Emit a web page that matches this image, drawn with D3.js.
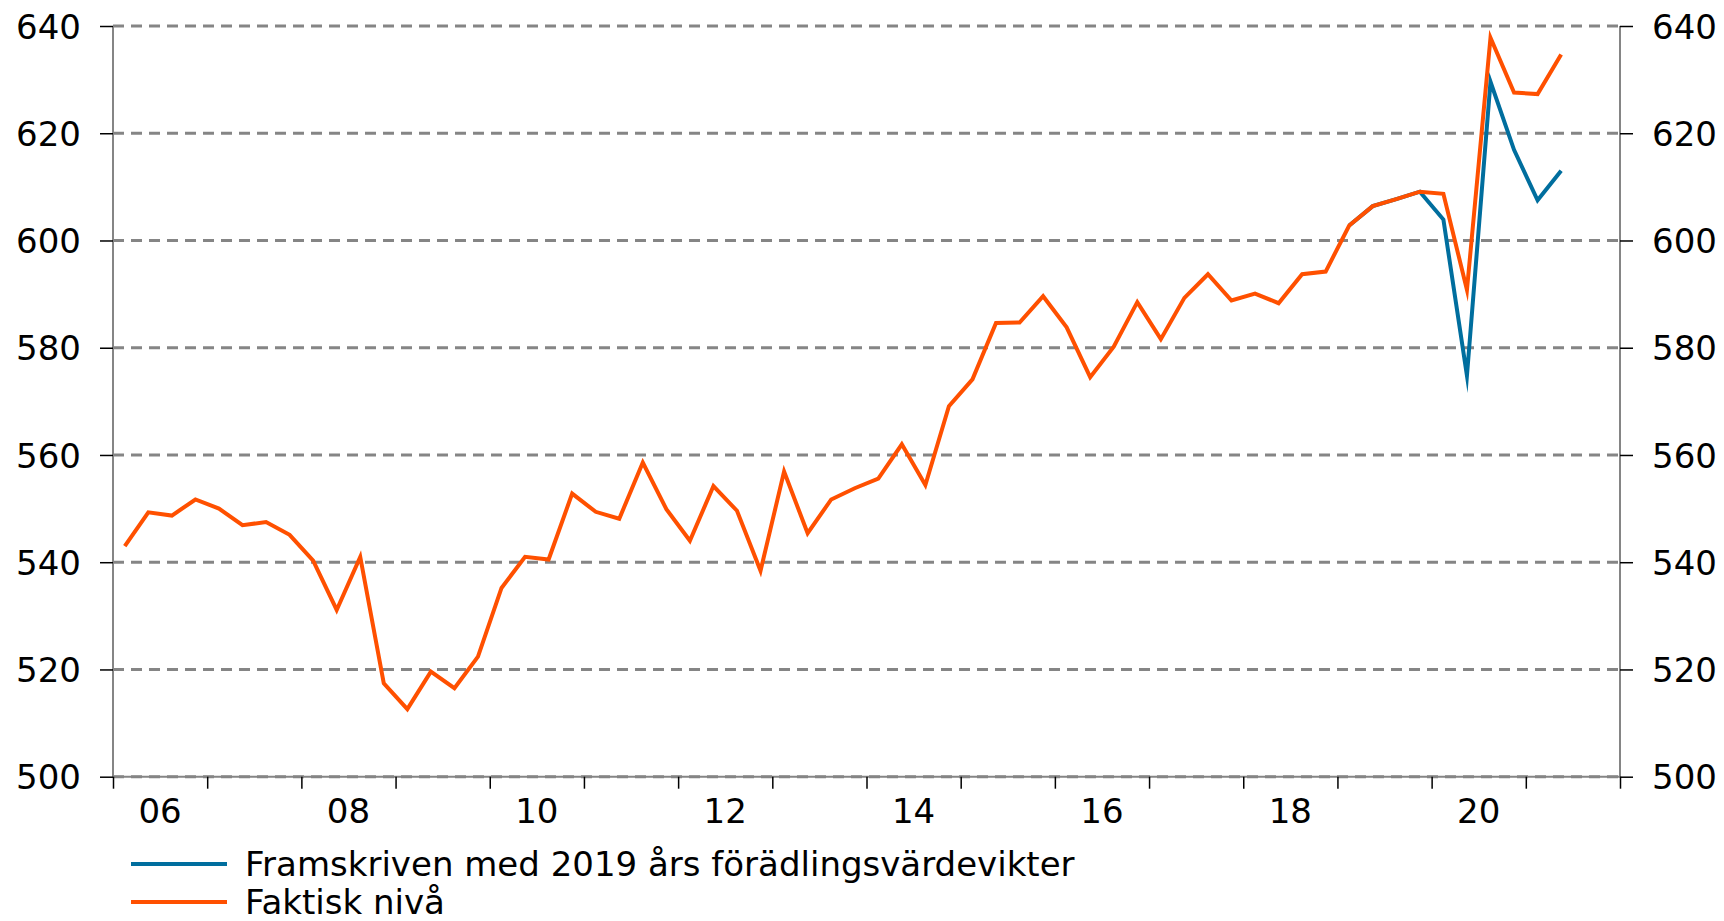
<!DOCTYPE html>
<html>
<head>
<meta charset="utf-8">
<script src="https://cdn.jsdelivr.net/npm/d3@7"></script>
<style>
  html, body { margin: 0; padding: 0; background: #fff; }
  svg { display: block; font-family: "DejaVu Sans", Verdana, sans-serif; }
</style>
</head>
<body>
<script>
const width = 1724;
const height = 921;

// years on the axis, quarters built from them
const years = [2006, 2007, 2008, 2009, 2010, 2011, 2012, 2013, 2014, 2015, 2016, 2017, 2018, 2019, 2020, 2021];
const quarters = years.flatMap((yr) => [1, 2, 3, 4].map((q) => yr + "K" + q));
const yearLabels = ["06", "08", "10", "12", "14", "16", "18", "20"];
const yTicks = [500, 520, 540, 560, 580, 600, 620, 640];

// Faktisk nivå, 2006K1 - 2021K2
const faktisk = [
  543.0, 549.3, 548.7, 551.7, 550.0, 546.9, 547.5, 545.1,
  540.3, 531.1, 541.0, 517.4, 512.6, 519.6, 516.5, 522.4,
  535.2, 541.0, 540.5, 552.8, 549.4, 548.1, 558.6, 549.9,
  544.0, 554.2, 549.6, 538.4, 556.9, 545.4, 551.7, 553.8,
  555.6, 562.0, 554.4, 569.1, 574.1, 584.6, 584.7, 589.6,
  583.8, 574.5, 580.2, 588.5, 581.6, 589.3, 593.7, 588.8,
  590.1, 588.3, 593.7, 594.2, 602.8, 606.4, 607.7, 609.1,
  608.7, 590.8, 637.8, 627.6, 627.3, 634.7
];
// Framskriven med 2019 års förädlingsvärdevikter, 2019K1 - 2021K2
const framStart = "2019K1";
const framskriven = [602.8, 606.4, 607.7, 609.1, 603.9, 574.8, 629.6, 616.9, 607.5, 613.0];

const blue = "#006e9e";
const orange = "#ff5000";
const grey = "#858585";
const fontSize = 34;

const svg = d3.select("body").append("svg")
  .attr("width", width)
  .attr("height", height);

const mLeft = 113, mRight = 1620, mTop = 26, mBottom = 776.7;

const x = d3.scaleBand().domain(quarters).range([mLeft, mRight]).padding(0);
const xq = d3.scaleLinear().domain([0, quarters.length]).range([mLeft, mRight]);
const y = d3.scaleLinear().domain([500, 640]).range([mBottom, mTop]);
const cx = (q) => x(q) + x.bandwidth() / 2;

// gridlines
svg.append("g")
  .selectAll("line")
  .data(yTicks)
  .join("line")
  .attr("x1", mLeft)
  .attr("x2", mRight)
  .attr("y1", (d) => y(d))
  .attr("y2", (d) => y(d))
  .attr("stroke", grey)
  .attr("stroke-width", 3)
  .attr("stroke-dasharray", "11,7");

// frame lines
svg.append("line").attr("x1", mLeft).attr("x2", mLeft).attr("y1", mTop).attr("y2", mBottom)
  .attr("stroke", grey).attr("stroke-width", 2);
svg.append("line").attr("x1", mRight).attr("x2", mRight).attr("y1", mTop).attr("y2", mBottom)
  .attr("stroke", grey).attr("stroke-width", 2);
svg.append("line").attr("x1", mLeft).attr("x2", mRight).attr("y1", mBottom).attr("y2", mBottom)
  .attr("stroke", grey).attr("stroke-width", 2);

// y axes
const yLeft = svg.append("g")
  .attr("transform", `translate(${mLeft},0)`)
  .call(d3.axisLeft(y).tickValues(yTicks).tickSize(13).tickPadding(19));
const yRight = svg.append("g")
  .attr("transform", `translate(${mRight},0)`)
  .call(d3.axisRight(y).tickValues(yTicks).tickSize(13).tickPadding(19));

// x axis: ticks at each year start, labels every second year
const yearStarts = years.map((yr) => quarters.indexOf(yr + "K1")).concat([quarters.length]);
const xAxis = svg.append("g")
  .attr("transform", `translate(0,${mBottom})`)
  .call(d3.axisBottom(xq).tickValues(yearStarts).tickSize(12).tickFormat(""));

svg.append("g")
  .selectAll("text")
  .data(yearLabels)
  .join("text")
  .attr("x", (d) => x("20" + d + "K1") + x.bandwidth() * 2)
  .attr("y", 823)
  .attr("text-anchor", "middle")
  .attr("font-size", fontSize)
  .attr("fill", "#000")
  .text((d) => d);

[yLeft, yRight, xAxis].forEach((g) => {
  g.select(".domain").remove();
  g.selectAll(".tick line").attr("stroke", "#000").attr("stroke-width", 1.5);
  g.selectAll(".tick text")
    .attr("font-size", fontSize)
    .attr("font-family", "DejaVu Sans, Verdana, sans-serif")
    .attr("fill", "#000")
    .attr("dy", "0.36em");
});

// lines
const line = d3.line()
  .x((d) => cx(d.q))
  .y((d) => y(d.v));

const i0 = quarters.indexOf(framStart);
const framData = framskriven.map((v, i) => ({ q: quarters[i0 + i], v }));
const faktData = faktisk.map((v, i) => ({ q: quarters[i], v }));

svg.append("path")
  .datum(framData)
  .attr("d", line)
  .attr("fill", "none")
  .attr("stroke", blue)
  .attr("stroke-width", 4)
  .attr("stroke-linejoin", "miter")
  .attr("stroke-miterlimit", 20);

svg.append("path")
  .datum(faktData)
  .attr("d", line)
  .attr("fill", "none")
  .attr("stroke", orange)
  .attr("stroke-width", 4)
  .attr("stroke-linejoin", "miter")
  .attr("stroke-miterlimit", 20);

// legend
const legendItems = [
  { name: "Framskriven med 2019 års förädlingsvärdevikter", color: blue },
  { name: "Faktisk nivå", color: orange }
];
const legend = svg.append("g")
  .selectAll("g")
  .data(legendItems)
  .join("g")
  .attr("transform", (d, i) => `translate(131,${864 + i * 38})`);
legend.append("line")
  .attr("x1", 0).attr("x2", 96)
  .attr("stroke", (d) => d.color)
  .attr("stroke-width", 4);
legend.append("text")
  .attr("x", 114)
  .attr("y", 12)
  .attr("font-size", fontSize)
  .attr("fill", "#000")
  .text((d) => d.name);
</script>
</body>
</html>
